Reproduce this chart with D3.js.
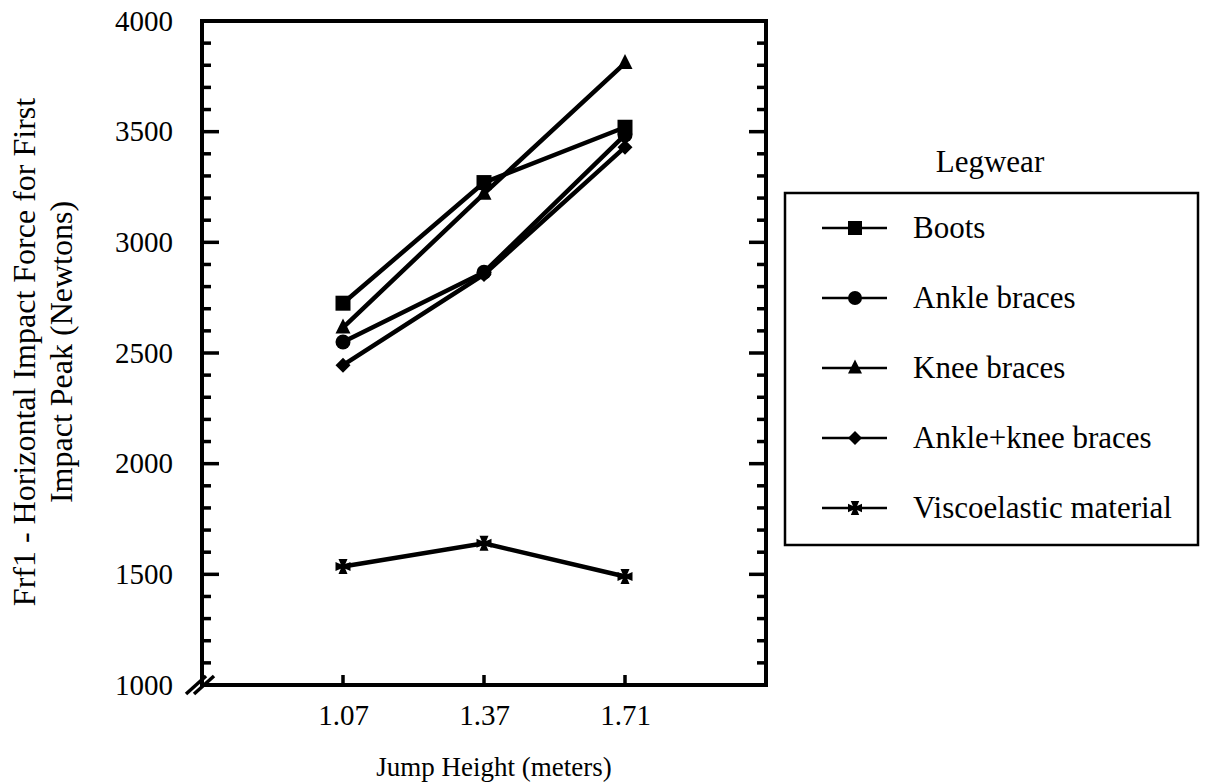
<!DOCTYPE html>
<html>
<head>
<meta charset="utf-8">
<script src="https://cdn.jsdelivr.net/npm/d3@7"></script>
<style>
    body { margin: 0; background: #fff; }
    svg text { font-family: "Liberation Serif", "Times New Roman", serif; fill: #000; }
</style>
</head>
<body>
<svg id="chart" width="1215" height="784"></svg>
<script>
// jump heights (x categories)
var heights = ["1.07", "1.37", "1.71"];

// horizontal impact force, first impact peak (N)
var boots = [2725, 3270, 3520];
var ankleBraces = [2550, 2865, 3485];
var kneeBraces = [2615, 3220, 3810];
var ankleKneeBraces = [2445, 2855, 3430];
var viscoelastic = [1535, 1640, 1490];

var seriesNames = ["Boots", "Ankle braces", "Knee braces", "Ankle+knee braces", "Viscoelastic material"];
var yTicks = [1000, 1500, 2000, 2500, 3000, 3500, 4000];

var series = [
    {name: seriesNames[0], values: boots, marker: "square"},
    {name: seriesNames[1], values: ankleBraces, marker: "circle"},
    {name: seriesNames[2], values: kneeBraces, marker: "triangle"},
    {name: seriesNames[3], values: ankleKneeBraces, marker: "diamond"},
    {name: seriesNames[4], values: viscoelastic, marker: "cross"}
];

// plot frame (window.top is taken, so prefixed names)
var pLeft = 202, pRight = 766, pTop = 21, pBottom = 685;

var svg = d3.select("#chart");

var x = d3.scalePoint()
    .domain(heights)
    .range([pLeft, pRight])
    .padding(1);

var y = d3.scaleLinear()
    .domain([1000, 4000])
    .range([pBottom, pTop]);

var minor = d3.range(1100, 4000, 100).filter(function (v) { return v % 500 !== 0; });

// marker shapes, drawn as paths around 0,0
function markerPath(type, s) {
    var h = s / 2;
    switch (type) {
        case "square":
            return "M" + (-h) + "," + (-h) + "h" + s + "v" + s + "h" + (-s) + "Z";
        case "circle":
            return "M" + (-h) + ",0a" + h + "," + h + " 0 1,0 " + s + ",0a" + h + "," + h + " 0 1,0 " + (-s) + ",0Z";
        case "triangle":
            return "M0," + (-h * 1.2) + "L" + h + "," + (h * 0.8) + "L" + (-h) + "," + (h * 0.8) + "Z";
        case "diamond":
            return "M0," + (-h) + "L" + h + ",0L0," + h + "L" + (-h) + ",0Z";
        case "cross":
            var a = h * 0.3;
            return "M" + (-h * 0.6) + "," + (-h) + "L" + (h * 0.6) + "," + (-h) +
                "L" + a + "," + (-a) + "L" + h + "," + (-h * 0.6) + "L" + h + "," + (h * 0.6) +
                "L" + a + "," + a + "L" + (h * 0.6) + "," + h + "L" + (-h * 0.6) + "," + h +
                "L" + (-a) + "," + a + "L" + (-h) + "," + (h * 0.6) + "L" + (-h) + "," + (-h * 0.6) +
                "L" + (-a) + "," + (-a) + "Z";
    }
}

// axis labels
var axisG = svg.append("g").attr("class", "axes");

axisG.append("g")
    .attr("transform", "translate(" + pLeft + ",0)")
    .call(d3.axisLeft(y).tickValues(yTicks).tickFormat(d3.format("d")).tickSize(0).tickPadding(29));

axisG.append("g")
    .attr("transform", "translate(0," + pBottom + ")")
    .call(d3.axisBottom(x).tickSize(0).tickPadding(19));

axisG.selectAll(".domain").remove();
axisG.selectAll(".tick line").remove();
axisG.selectAll(".tick text").style("font-size", "29px");

// frame
axisG.append("path")
    .attr("d", "M" + pLeft + "," + pBottom + "V" + pTop + "H" + pRight + "V" + pBottom + "Z")
    .attr("fill", "none")
    .attr("stroke", "#000")
    .attr("stroke-width", 4);

// tick marks, all pointing into the plot (drawn as small filled bars)
var tickG = svg.append("g").attr("class", "tickmarks").attr("fill", "#000");

var yMarks = yTicks.map(function (v) { return {v: v, len: 17}; })
    .concat(minor.map(function (v) { return {v: v, len: 9}; }));

tickG.selectAll("rect.yl")
    .data(yMarks)
    .enter().append("rect")
    .attr("class", "yl")
    .attr("x", pLeft)
    .attr("y", function (d) { return y(d.v) - 1.75; })
    .attr("width", function (d) { return d.len; })
    .attr("height", 3.5);

tickG.selectAll("rect.yr")
    .data(yMarks)
    .enter().append("rect")
    .attr("class", "yr")
    .attr("x", function (d) { return pRight - d.len; })
    .attr("y", function (d) { return y(d.v) - 1.75; })
    .attr("width", function (d) { return d.len; })
    .attr("height", 3.5);

tickG.selectAll("rect.xb")
    .data(heights)
    .enter().append("rect")
    .attr("class", "xb")
    .attr("x", function (d) { return x(d) - 1.75; })
    .attr("y", pBottom - 10)
    .attr("width", 3.5)
    .attr("height", 10);

// axis break on the bottom-left corner
[-4, 4].forEach(function (o) {
    axisG.append("line")
        .attr("x1", pLeft - 12 + o).attr("y1", pBottom + 9)
        .attr("x2", pLeft + 8 + o).attr("y2", pBottom - 9)
        .attr("stroke", "#000")
        .attr("stroke-width", 3.5);
});

// lines
var line = d3.line()
    .x(function (d, i) { return x(heights[i]); })
    .y(function (d) { return y(d); });

var plot = svg.append("g").attr("class", "plot");

series.forEach(function (s) {
    plot.append("path")
        .datum(s.values)
        .attr("d", line)
        .attr("fill", "none")
        .attr("stroke", "#000")
        .attr("stroke-width", 4.5);
});

series.forEach(function (s) {
    plot.selectAll(null)
        .data(s.values)
        .enter().append("path")
        .attr("transform", function (d, i) { return "translate(" + x(heights[i]) + "," + y(d) + ")"; })
        .attr("d", markerPath(s.marker, 15))
        .attr("fill", "#000");
});

// axis titles
svg.append("text")
    .attr("x", 494)
    .attr("y", 776)
    .attr("text-anchor", "middle")
    .style("font-size", "27px")
    .text("Jump Height (meters)");

var yTitle = svg.append("text")
    .attr("transform", "translate(0,352) rotate(-90)")
    .attr("text-anchor", "middle")
    .style("font-size", "32px");
yTitle.append("tspan").attr("x", 0).attr("y", 35).text("Frf1 - Horizontal Impact Force for First");
yTitle.append("tspan").attr("x", 0).attr("y", 72).text("Impact Peak (Newtons)");

// legend
var legend = svg.append("g").attr("class", "legend");

legend.append("text")
    .attr("x", 990)
    .attr("y", 172)
    .attr("text-anchor", "middle")
    .style("font-size", "31px")
    .text("Legwear");

legend.append("rect")
    .attr("x", 785)
    .attr("y", 193)
    .attr("width", 413)
    .attr("height", 352)
    .attr("fill", "none")
    .attr("stroke", "#000")
    .attr("stroke-width", 2.5);

var item = legend.selectAll("g.item")
    .data(series)
    .enter().append("g")
    .attr("class", "item")
    .attr("transform", function (d, i) { return "translate(0," + (228 + i * 70) + ")"; });

item.append("line")
    .attr("x1", 822).attr("x2", 887)
    .attr("stroke", "#000")
    .attr("stroke-width", 2.5);

item.append("path")
    .attr("transform", "translate(855,0)")
    .attr("d", function (d) { return markerPath(d.marker, 14); })
    .attr("fill", "#000");

item.append("text")
    .attr("x", 913)
    .attr("y", 10)
    .style("font-size", "31px")
    .text(function (d) { return d.name; });
</script>
</body>
</html>
